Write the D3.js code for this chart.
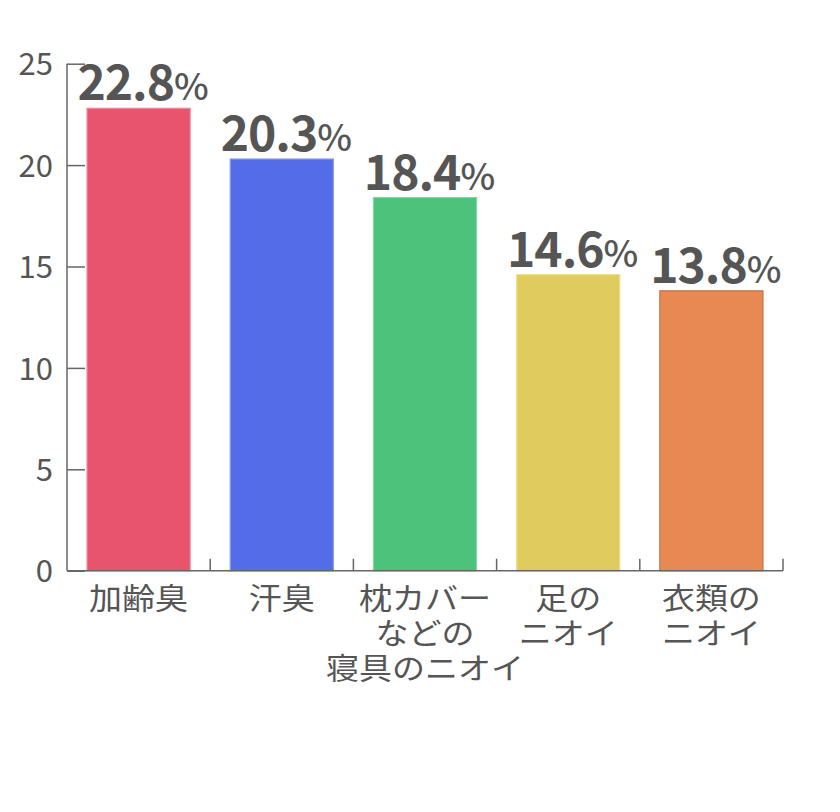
<!DOCTYPE html>
<html>
<head>
<meta charset="utf-8">
<script src="https://cdn.jsdelivr.net/npm/d3@7"></script>
<style>
  body { margin: 0; background: #fff; }
  text { font-family: "Noto Sans CJK JP", "Noto Sans", sans-serif; }
</style>
</head>
<body>
<div id="chart"></div>
<script>
// categories (line breaks as in the picture)
var categories = ["加齢臭", "汗臭", "枕カバー\nなどの\n寝具のニオイ", "足の\nニオイ", "衣類の\nニオイ"];
var values = [22.8, 20.3, 18.4, 14.6, 13.8];
var yTicks = [0, 5, 10, 15, 20, 25];

var fills   = ["#e8546d", "#536ce8", "#4dc27b", "#e0cc5c", "#e88853"];
var strokes = ["#f2869a", "#8a99f0", "#7fd6a0", "#ece08a", "#c2704a"];

var w = 840;
var h = 812;
var mLeft = 67, mRight = 783, mTop = 63.7, mBottom = 570.7;

var svg = d3.select("#chart")
            .append("svg")
            .attr("width", w)
            .attr("height", h);

var x = d3.scaleBand()
          .domain(categories)
          .range([mLeft, mRight])
          .paddingInner(0.28)
          .paddingOuter(0.14);

var y = d3.scaleLinear()
          .domain([0, 25])
          .range([mBottom, mTop]);

// bars
svg.selectAll("rect.bar")
   .data(values)
   .enter()
   .append("rect")
   .attr("class", "bar")
   .attr("x", function(d, i) { return x(categories[i]); })
   .attr("y", function(d) { return y(d); })
   .attr("width", x.bandwidth())
   .attr("height", function(d) { return y(0) - y(d); })
   .attr("fill", function(d, i) { return fills[i]; })
   .attr("stroke", function(d, i) { return strokes[i]; })
   .attr("stroke-width", 1.2);

// y axis
var yAxis = svg.append("g")
   .attr("transform", "translate(" + mLeft + ",0)")
   .call(d3.axisLeft(y).tickValues(yTicks).tickSize(-18).tickPadding(14));
yAxis.select(".domain").attr("stroke", "#666").attr("stroke-width", 1.5)
     .attr("d", "M0," + y(25) + "V" + y(0));
yAxis.selectAll(".tick line").attr("stroke", "#666").attr("stroke-width", 1.5);
yAxis.selectAll(".tick text")
     .attr("fill", "#555")
     .attr("font-size", 31)
     .attr("x", -14)
     .attr("dy", "0.36em");

// x axis line + ticks at right edge of each band
var step = x.step();
svg.append("line")
   .attr("x1", mLeft).attr("x2", mRight)
   .attr("y1", y(0)).attr("y2", y(0))
   .attr("stroke", "#666").attr("stroke-width", 1.5);
svg.selectAll("line.xtick")
   .data(categories)
   .enter()
   .append("line")
   .attr("class", "xtick")
   .attr("x1", function(d) { return x(d) - x.paddingInner() * step / 2 + step; })
   .attr("x2", function(d) { return x(d) - x.paddingInner() * step / 2 + step; })
   .attr("y1", y(0))
   .attr("y2", y(0) - 12)
   .attr("stroke", "#666").attr("stroke-width", 1.5);

// category labels (glyphs a bit flattened like the original)
var catG = svg.append("g")
   .attr("transform", "translate(0," + (y(0) + 38) + ") scale(1,0.9)");
var cat = catG.selectAll("text.cat")
   .data(categories)
   .enter()
   .append("text")
   .attr("class", "cat")
   .attr("text-anchor", "middle")
   .attr("fill", "#555")
   .attr("font-size", 33)
   .attr("x", function(d) { return x(d) + x.bandwidth() / 2; })
   .attr("y", 0);
cat.each(function(d) {
  var t = d3.select(this);
  d.split("\n").forEach(function(line, k) {
    t.append("tspan")
     .attr("x", x(d) + x.bandwidth() / 2)
     .attr("dy", k === 0 ? 0 : 35 / 0.9)
     .text(line);
  });
});

// value labels
var lab = svg.selectAll("text.val")
   .data(values)
   .enter()
   .append("text")
   .attr("class", "val")
   .attr("text-anchor", "middle")
   .attr("fill", "#555")
   .attr("letter-spacing", -1)
   .attr("x", function(d, i) { return x(categories[i]) + x.bandwidth() / 2 + 4; })
   .attr("y", function(d) { return y(d) - 8; });
lab.append("tspan")
   .attr("font-size", 48)
   .attr("font-weight", "bold")
   .text(function(d) { return d.toFixed(1); });
lab.append("tspan")
   .attr("font-size", 37)
   .attr("font-weight", 500)
   .text("%");
</script>
</body>
</html>
